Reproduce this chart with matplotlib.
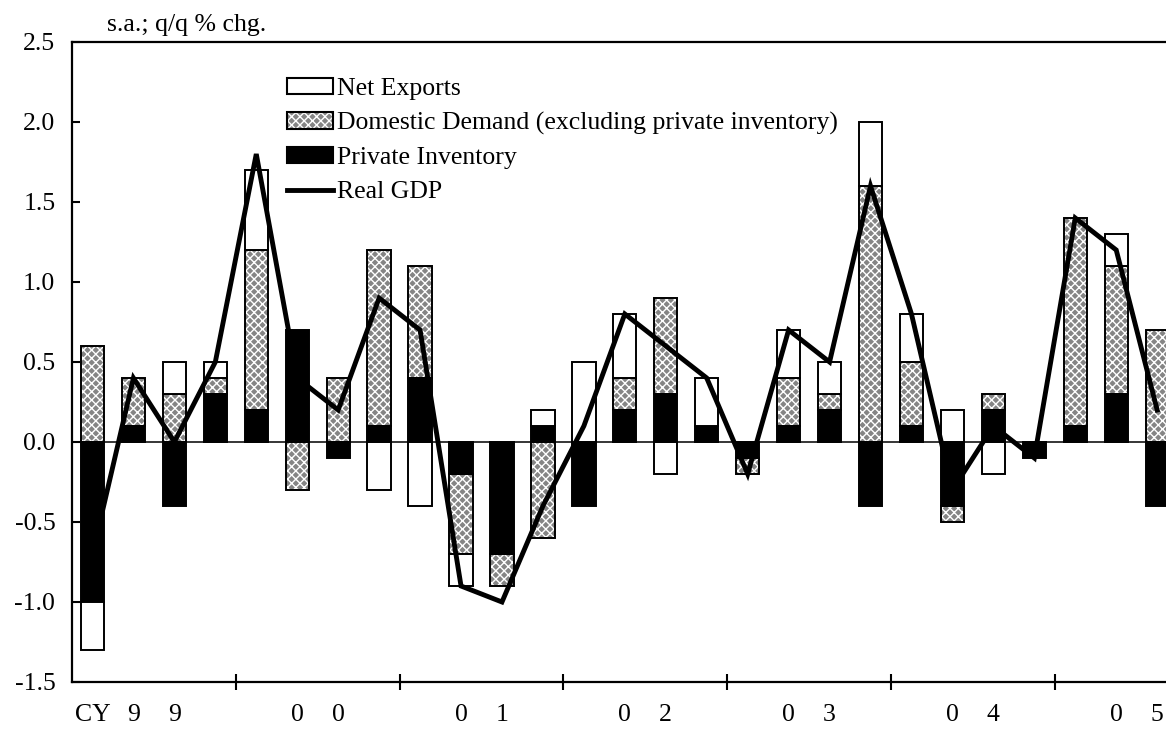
import numpy as np
import matplotlib.pyplot as plt
from matplotlib.patches import Patch
from matplotlib.lines import Line2D
from matplotlib.legend_handler import HandlerTuple

plt.rcParams['font.family'] = ['Liberation Serif', 'DejaVu Serif']
plt.rcParams['hatch.color'] = 'white'
plt.rcParams['hatch.linewidth'] = 1.0

# CY1999 Q1 .. CY2005 Q3, s.a. q/q % chg. contributions
years = ['99', '00', '01', '02', '03', '04', '05']
inventory = [-1.0, 0.1, -0.4, 0.3, 0.2, 0.7, -0.1, 0.1, 0.4, -0.2, -0.7, 0.1, -0.4, 0.2,
             0.3, 0.1, -0.1, 0.1, 0.2, -0.4, 0.1, -0.4, 0.2, -0.1, 0.1, 0.3, -0.4]
domestic = [0.6, 0.3, 0.3, 0.1, 1.0, -0.3, 0.4, 1.1, 0.7, -0.5, -0.2, -0.6, 0.0, 0.2,
            0.6, 0.0, -0.1, 0.3, 0.1, 1.6, 0.4, -0.1, 0.1, 0.0, 1.3, 0.8, 0.7]
net_exports = [-0.3, 0.0, 0.2, 0.1, 0.5, 0.0, 0.0, -0.3, -0.4, -0.2, 0.0, 0.1, 0.5, 0.4,
               -0.2, 0.3, 0.0, 0.3, 0.2, 0.4, 0.3, 0.2, -0.2, 0.0, 0.0, 0.2, 0.0]
real_gdp = [-0.7, 0.4, 0.0, 0.5, 1.8, 0.4, 0.2, 0.9, 0.7, -0.9, -1.0, -0.4, 0.1, 0.8,
            0.6, 0.4, -0.2, 0.7, 0.5, 1.6, 0.8, -0.3, 0.1, -0.1, 1.4, 1.2, 0.2]

n = len(real_gdp)
x = np.arange(n) + 0.5
largura = 0.57
cinza = '#858585'
fs = 18.5

# rotulos por trimestre: digitos do ano no 2o e 3o trimestre
rotulos = []
for k in range(n):
    a, q = divmod(k, 4)
    if q == 1:
        rotulos.append(years[a][0])
    elif q == 2:
        rotulos.append(years[a][1])
    else:
        rotulos.append('')
rotulos[0] = 'CY'

fig = plt.figure(figsize=(11.66, 7.31), dpi=100)
ax = fig.add_axes([72 / 1166, 49 / 731, 1 - 72 / 1166, 640 / 731])

base_pos = np.zeros(n)
base_neg = np.zeros(n)


def empilhar(valores, face, hatch=None):
    global base_pos, base_neg
    v = np.array(valores)
    bottom = np.where(v >= 0, base_pos, base_neg)
    m = v != 0
    if hatch:
        ax.bar(x[m], v[m], largura, bottom=bottom[m], facecolor=face, hatch=hatch,
               linewidth=0, zorder=2)
        ax.bar(x[m], v[m], largura, bottom=bottom[m], fill=False, edgecolor='black',
               linewidth=1.4, zorder=3)
    else:
        ax.bar(x[m], v[m], largura, bottom=bottom[m], facecolor=face, edgecolor='black',
               linewidth=1.4, zorder=3)
    base_pos = base_pos + np.where(v > 0, v, 0)
    base_neg = base_neg + np.where(v < 0, v, 0)


empilhar(inventory, 'black')
empilhar(domestic, cinza, hatch='xxxx')
empilhar(net_exports, 'white')

ax.axhline(0, color='black', linewidth=1.1, zorder=4)
ax.plot(x, real_gdp, color='black', linewidth=3.5, solid_joinstyle='miter', zorder=5)

ax.set_xlim(0, (1166 - 72) / 40.95)
ax.set_ylim(-1.5, 2.5)
ax.set_yticks(np.arange(-1.5, 2.51, 0.5))
ax.set_yticklabels([f'{v:.1f}' for v in np.arange(-1.5, 2.51, 0.5)])
ax.set_xticks(np.arange(4, n, 4))
ax.set_xticklabels([])
ax.set_xticks(x, minor=True)
ax.set_xticklabels(rotulos, minor=True)

ax.tick_params(axis='y', direction='in', length=6, width=1.5, pad=12, labelsize=fs)
ax.tick_params(axis='x', which='major', direction='inout', length=12, width=1.5)
ax.tick_params(axis='x', which='minor', length=0, pad=16, labelsize=fs)

for lado in ['left', 'bottom', 'top']:
    ax.spines[lado].set_linewidth(1.6)
ax.spines['right'].set_visible(False)

fig.text(107 / 1166, 1 - 25 / 731, 's.a.; q/q % chg.', fontsize=fs, va='center', ha='left')

h_ne = Patch(facecolor='white', edgecolor='black', linewidth=1.5)
h_dd = (Patch(facecolor=cinza, hatch='xxxx', linewidth=0),
        Patch(fill=False, edgecolor='black', linewidth=1.5))
h_pi = Patch(facecolor='black', edgecolor='black', linewidth=1.5)
h_gdp = Line2D([], [], color='black', linewidth=3.5)
ax.legend([h_ne, h_dd, h_pi, h_gdp],
          ['Net Exports', 'Domestic Demand (excluding private inventory)',
           'Private Inventory', 'Real GDP'],
          handler_map={tuple: HandlerTuple(ndivide=1, pad=0)},
          loc='upper left', bbox_to_anchor=(287 / 1166, 1 - 78 / 731),
          bbox_transform=fig.transFigure, frameon=False, fontsize=fs,
          handlelength=1.8, handleheight=0.6, handletextpad=0.15,
          labelspacing=0.46, borderpad=0, borderaxespad=0)

fig.savefig('out.png', dpi=100)
